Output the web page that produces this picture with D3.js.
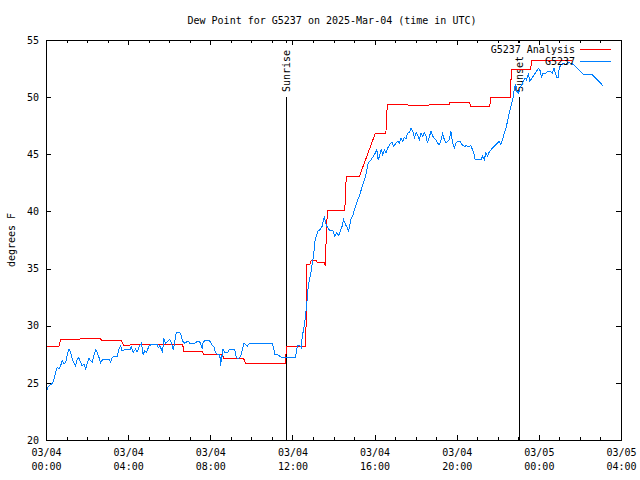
<!DOCTYPE html>
<html>
<head>
<meta charset="utf-8">
<script src="https://cdn.jsdelivr.net/npm/d3@7/dist/d3.min.js"></script>
<style>
  html, body { margin: 0; padding: 0; background: #fff; }
  svg { display: block; }
  text { font-family: "DejaVu Sans Mono", "Liberation Mono", monospace; font-size: 10px; fill: #000; }
</style>
</head>
<body>
<svg id="chart" width="640" height="480"></svg>
<script>
// ---------------- DATA ----------------
const chartTitle = "Dew Point for G5237 on 2025-Mar-04 (time in UTC)";
const yLabel = "degrees F";
const seriesNames = ["G5237 Analysis", "G5237"];
const seriesColors = ["#ff0000", "#0080ff"];

// hours after 2025-03-04 00:00 UTC
const analysisTime = [0.00, 0.63, 0.71, 1.65, 1.70, 2.65, 2.70, 3.65, 3.80, 4.05, 4.10, 5.65, 5.70, 6.65, 6.72, 7.62, 7.68, 8.60, 8.66, 9.62, 9.72, 11.65, 11.72, 12.65, 12.70, 12.85, 12.92, 13.15, 13.22, 13.55, 13.60, 13.62, 13.70, 14.55, 14.62, 15.25, 16.03, 16.55, 16.62, 17.60, 17.65, 18.62, 18.67, 19.62, 19.67, 20.63, 20.68, 21.60, 21.67, 22.60, 22.67, 23.60, 23.65, 25.60];
const analysisVal  = [28.18, 28.18, 28.82, 28.82, 28.88, 28.88, 28.73, 28.73, 28.23, 28.23, 28.32, 28.32, 28.38, 28.38, 27.74, 27.74, 27.50, 27.50, 27.13, 27.13, 26.72, 26.72, 28.18, 28.18, 35.36, 35.36, 35.74, 35.74, 35.51, 35.51, 35.20, 36.40, 40.10, 40.10, 43.02, 43.02, 46.80, 46.80, 49.39, 49.39, 49.24, 49.24, 49.33, 49.33, 49.56, 49.56, 49.15, 49.15, 50.00, 50.00, 52.44, 52.44, 53.19, 53.19];

const obsTime = [0.06, 0.10, 0.19, 0.31, 0.39, 0.47, 0.55, 0.63, 0.71, 0.79, 0.88, 0.96, 1.04, 1.12, 1.20, 1.28, 1.36, 1.44, 1.52, 1.60, 1.69, 1.76, 1.85, 1.93, 2.01, 2.09, 2.17, 2.25, 2.33, 2.42, 2.49, 2.58, 2.66, 2.74, 2.90, 3.06, 3.15, 3.22, 3.31, 3.47, 3.55, 3.63, 3.71, 3.79, 4.12, 4.15, 4.24, 4.36, 4.44, 4.52, 4.57, 4.65, 4.73, 4.81, 4.90, 5.02, 5.14, 5.41, 5.46, 5.54, 5.62, 5.67, 5.74, 5.83, 5.95, 6.03, 6.11, 6.19, 6.24, 6.32, 6.38, 6.55, 6.65, 6.76, 6.92, 7.00, 7.24, 7.33, 7.49, 7.57, 7.62, 7.65, 7.73, 7.97, 8.06, 8.17, 8.26, 8.33, 8.46, 8.51, 8.54, 8.59, 8.62, 8.70, 8.86, 8.94, 9.19, 9.27, 9.35, 9.48, 9.64, 9.81, 9.92, 11.02, 11.15, 11.34, 11.46, 12.15, 12.24, 12.36, 12.43, 12.48, 12.56, 12.61, 12.67, 12.72, 12.77, 12.83, 12.90, 12.96, 13.04, 13.08, 13.16, 13.24, 13.35, 13.45, 13.51, 13.56, 13.61, 13.67, 13.81, 13.97, 14.05, 14.16, 14.26, 14.33, 14.42, 14.49, 14.58, 14.65, 14.74, 14.81, 14.86, 14.94, 15.02, 15.10, 15.18, 15.26, 15.35, 15.42, 15.51, 15.59, 15.67, 15.75, 15.83, 15.94, 16.04, 16.11, 16.17, 16.24, 16.32, 16.40, 16.48, 16.56, 16.64, 16.76, 16.85, 16.93, 17.05, 17.13, 17.21, 17.29, 17.37, 17.45, 17.53, 17.61, 17.70, 17.78, 17.86, 17.94, 18.02, 18.10, 18.18, 18.26, 18.34, 18.42, 18.51, 18.58, 18.67, 18.75, 18.83, 18.91, 18.99, 19.07, 19.15, 19.24, 19.31, 19.40, 19.48, 19.56, 19.64, 19.72, 19.80, 19.88, 19.96, 20.04, 20.16, 20.26, 20.37, 20.48, 20.58, 20.69, 20.77, 20.85, 20.90, 21.18, 21.26, 21.34, 21.42, 21.50, 21.58, 21.67, 21.83, 21.91, 22.07, 22.15, 22.23, 22.31, 22.40, 22.47, 22.56, 22.64, 22.72, 22.77, 22.81, 22.88, 22.93, 23.01, 23.08, 23.17, 23.24, 23.33, 23.40, 23.49, 23.56, 23.66, 23.77, 23.88, 23.98, 24.05, 24.13, 24.18, 24.34, 24.42, 24.58, 24.66, 24.74, 24.87, 24.95, 24.99, 25.07, 25.23, 25.31, 25.39, 25.56, 25.72, 25.88, 26.04, 26.20, 26.61, 26.69, 26.85, 27.01, 27.14];
const obsVal  = [24.39, 24.65, 24.80, 24.95, 25.32, 25.91, 26.35, 26.20, 26.49, 26.92, 26.63, 26.83, 27.50, 27.94, 27.65, 27.07, 26.78, 26.49, 27.07, 27.22, 26.78, 26.49, 26.63, 26.20, 26.78, 27.13, 26.92, 26.83, 27.36, 27.88, 27.65, 27.22, 26.78, 27.00, 27.07, 27.07, 26.83, 27.22, 27.30, 27.30, 27.94, 28.23, 27.79, 27.88, 27.88, 28.23, 27.65, 27.94, 27.70, 28.08, 28.29, 28.47, 27.50, 27.79, 27.70, 28.23, 28.38, 28.38, 28.08, 28.23, 27.94, 27.65, 28.82, 28.47, 28.67, 28.82, 28.47, 27.94, 28.23, 29.25, 29.40, 29.35, 28.67, 28.47, 28.67, 28.47, 28.47, 28.58, 28.58, 28.23, 27.94, 28.58, 28.67, 28.67, 28.38, 28.18, 27.65, 27.50, 27.50, 26.49, 27.36, 27.30, 27.94, 27.70, 27.70, 27.94, 27.94, 27.22, 27.07, 27.36, 28.47, 28.23, 28.47, 28.47, 27.50, 27.41, 27.22, 27.22, 28.23, 28.23, 28.09, 29.05, 29.84, 30.42, 31.43, 32.30, 33.47, 34.05, 34.63, 35.36, 36.23, 37.26, 37.83, 38.27, 38.42, 38.71, 39.29, 39.58, 39.00, 38.71, 38.35, 38.35, 37.83, 38.13, 37.90, 38.27, 38.71, 39.29, 38.86, 38.64, 38.27, 39.00, 39.44, 39.58, 40.16, 40.60, 41.03, 41.32, 41.90, 42.34, 42.78, 43.36, 44.09, 44.38, 44.53, 44.82, 45.11, 45.40, 44.53, 44.82, 45.40, 44.96, 45.40, 45.10, 45.55, 45.92, 46.04, 45.69, 45.98, 46.13, 45.98, 46.42, 46.13, 46.48, 46.33, 46.86, 46.91, 47.29, 47.00, 46.42, 46.91, 46.71, 46.27, 46.86, 46.57, 46.91, 46.57, 45.98, 46.57, 47.00, 46.57, 46.42, 46.27, 45.98, 45.84, 46.27, 46.80, 46.27, 45.98, 46.13, 46.27, 47.00, 45.98, 45.55, 45.98, 46.13, 46.13, 45.84, 45.69, 45.75, 45.64, 45.75, 45.40, 44.96, 44.53, 44.53, 44.82, 44.53, 45.11, 44.82, 45.20, 45.40, 45.69, 45.84, 46.13, 45.84, 46.27, 46.86, 47.29, 47.87, 48.60, 49.18, 49.76, 50.20, 50.84, 51.07, 50.49, 50.35, 50.78, 51.07, 51.36, 51.65, 51.51, 52.09, 51.42, 51.65, 51.95, 52.23, 52.53, 52.38, 51.71, 52.09, 52.09, 52.23, 52.23, 52.09, 52.53, 51.71, 51.71, 52.53, 52.82, 52.97, 52.82, 53.05, 52.97, 52.82, 52.53, 52.23, 51.95, 51.95, 51.80, 51.51, 51.22, 50.93];

const eventNames = ["Sunrise", "Sunset"];
const eventTime = [11.67, 23.04];

const yTicks = [20, 25, 30, 35, 40, 45, 50, 55];
const xTickHours = [0, 4, 8, 12, 16, 20, 24, 28];
const xMinorHours = d3.range(0, 29, 1);

// ---------------- CHART ----------------
const T0 = Date.UTC(2025, 2, 4, 0, 0);
const toDate = h => new Date(T0 + h * 3600e3);

const svg = d3.select("#chart");
const L = 46, R = 621, T = 40, B = 440;

const x = d3.scaleUtc().domain([toDate(0), toDate(28)]).range([L, R]);
const y = d3.scaleLinear().domain([20, 55]).range([B, T]);

const crisp = s => s.attr("shape-rendering", "crispEdges");

// minor ticks (bottom and top)
const minorVals = xMinorHours.map(toDate);
svg.append("g").attr("transform", `translate(0,${B})`)
  .call(d3.axisBottom(x).tickValues(minorVals).tickSize(-3).tickFormat(""))
  .call(g => g.select(".domain").remove()).call(crisp);
svg.append("g").attr("transform", `translate(0,${T})`)
  .call(d3.axisTop(x).tickValues(minorVals).tickSize(-3).tickFormat(""))
  .call(g => g.select(".domain").remove()).call(crisp);

// major x ticks
const majorVals = xTickHours.map(toDate);
const fmtDay = d3.utcFormat("%m/%d"), fmtTime = d3.utcFormat("%H:%M");
const xAxisG = svg.append("g").attr("transform", `translate(0,${B})`)
  .call(d3.axisBottom(x).tickValues(majorVals).tickSize(-5).tickFormat(""))
  .call(g => g.select(".domain").remove()).call(crisp);
xAxisG.selectAll(".tick text").remove();
xAxisG.selectAll(".tick").each(function(d) {
  const t = d3.select(this).append("text").attr("text-anchor", "middle")
    .style("font-family", "DejaVu Sans Mono, monospace").style("font-size", "10px").attr("fill", "#000");
  t.append("tspan").attr("x", 0).attr("y", 16).text(fmtDay(d));
  t.append("tspan").attr("x", 0).attr("y", 30).text(fmtTime(d));
});
svg.append("g").attr("transform", `translate(0,${T})`)
  .call(d3.axisTop(x).tickValues(majorVals).tickSize(-5).tickFormat(""))
  .call(g => g.select(".domain").remove()).call(crisp);

// y ticks
svg.append("g").attr("transform", `translate(${L},0)`)
  .call(d3.axisLeft(y).tickValues(yTicks).tickSize(-5).tickPadding(7).tickFormat(d3.format("d")))
  .call(g => g.select(".domain").remove())
  .call(g => g.selectAll("text").style("font-family", "DejaVu Sans Mono, monospace").style("font-size", "10px").attr("fill", "#000"))
  .call(crisp);
svg.append("g").attr("transform", `translate(${R},0)`)
  .call(d3.axisRight(y).tickValues(yTicks).tickSize(-5).tickFormat(""))
  .call(g => g.select(".domain").remove()).call(crisp);

// event lines
eventNames.forEach((name, i) => {
  const ex = Math.round(x(toDate(eventTime[i]))) + 0.5;
  svg.append("line").attr("x1", ex).attr("x2", ex).attr("y1", 97).attr("y2", B + 0.5)
    .attr("stroke", "#000").attr("stroke-width", 1).call(crisp);
  svg.append("line").attr("x1", ex).attr("x2", ex).attr("y1", T).attr("y2", T + 3)
    .attr("stroke", "#000").attr("stroke-width", 1).call(crisp);
  svg.append("text").attr("transform", `translate(${ex},92) rotate(-90)`)
    .attr("dy", "0.35em").attr("text-anchor", "start").text(name);
});

// data lines
const line = d3.line().x(d => x(toDate(d[0]))).y(d => y(d[1]));
const anaData = analysisTime.map((t, i) => [t, analysisVal[i]]);
const obsData = obsTime.map((t, i) => [t, obsVal[i]]);

svg.append("path").datum(anaData).attr("d", line)
  .attr("fill", "none").attr("stroke", seriesColors[0]).attr("stroke-width", 1).call(crisp);
svg.append("path").datum(obsData).attr("d", line)
  .attr("fill", "none").attr("stroke", seriesColors[1]).attr("stroke-width", 1).call(crisp);

// frame
svg.append("rect").attr("x", L + 0.5).attr("y", T + 0.5).attr("width", R - L).attr("height", B - T)
  .attr("fill", "none").attr("stroke", "#000").attr("stroke-width", 1).call(crisp);

// legend
seriesNames.forEach((name, i) => {
  const ly = 49 + i * 12;
  svg.append("text").attr("x", 575).attr("y", ly).attr("dy", "0.35em")
    .attr("text-anchor", "end").text(name);
  svg.append("line").attr("x1", 580).attr("x2", 611).attr("y1", ly + 0.5).attr("y2", ly + 0.5)
    .attr("stroke", seriesColors[i]).attr("stroke-width", 1).call(crisp);
});

// title and y label
svg.append("text").attr("x", 332).attr("y", 20).attr("dy", "0.35em")
  .attr("text-anchor", "middle").text(chartTitle);
svg.append("text").attr("transform", "translate(11,240) rotate(-90)").attr("dy", "0.35em")
  .attr("text-anchor", "middle").text(yLabel);
</script>
</body>
</html>
